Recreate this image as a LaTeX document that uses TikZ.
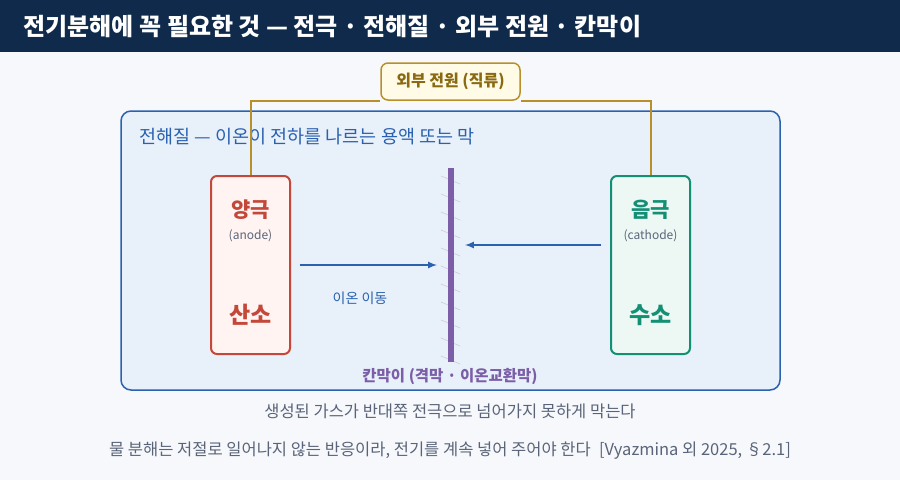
\documentclass[tikz,border=0pt]{standalone}
\usepackage{fontspec}
\setmainfont{Noto Sans CJK KR}
\usetikzlibrary{positioning}
\definecolor{navy}{HTML}{0F2A4A}
\definecolor{pagebg}{HTML}{F6F8FC}
\definecolor{elblue}{HTML}{2A62B0}
\definecolor{elfill}{HTML}{E8F0FA}
\definecolor{anred}{HTML}{C4483A}
\definecolor{anfill}{HTML}{FFF4F2}
\definecolor{catgreen}{HTML}{138F74}
\definecolor{catfill}{HTML}{EDF8F4}
\definecolor{mempurple}{HTML}{7B5EA7}
\definecolor{wiregold}{HTML}{B8902A}
\definecolor{goldtext}{HTML}{8A6A10}
\definecolor{goldfill}{HTML}{FFFBE6}
\definecolor{notegray}{HTML}{5A6478}
\begin{document}
\begin{tikzpicture}
  [ x=1pt, y=-1pt,
    electrode/.style={rectangle, rounded corners=6pt, line width=2pt, minimum width=79pt, minimum height=178pt},
    bigname/.style={font=\bfseries\fontsize{21}{24}\selectfont},
    engname/.style={font=\fontsize{12}{14}\selectfont, text=notegray},
    gasname/.style={font=\bfseries\fontsize{23}{26}\selectfont},
    wire/.style={line width=2pt, wiregold},
    flow/.style={-latex, line width=2pt, elblue},
    note/.style={font=\fontsize{16.5}{18}\selectfont, text=notegray}
  ]
  \fill[pagebg] (0,0) rectangle (900,480);
  \fill[navy] (0,0) rectangle (900,52);
  \node[anchor=west, text=white, font=\bfseries\fontsize{24}{26}\selectfont] (title) at (20,27)
    {전기분해에 꼭 필요한 것 — 전극 · 전해질 · 외부 전원 · 칸막이};

  % electrolyte
  \draw[elblue, line width=1.5pt, fill=elfill, rounded corners=10pt] (121,111) rectangle (780,390);
  \node[anchor=west, text=elblue, font=\fontsize{18.5}{20}\selectfont] (ellabel) at (136,137)
    {전해질 — 이온이 전하를 나르는 용액 또는 막};

  % electrodes
  \node[electrode, draw=anred, fill=anfill] (anode) at (250.5,265) {};
  \node[bigname, text=anred] (anname) at (250.5,210) {양극};
  \node[engname] (aneng) at (250.5,236) {(anode)};
  \node[gasname, text=anred] (o2) at (250.5,315) {산소};

  \node[electrode, draw=catgreen, fill=catfill] (cathode) at (650.5,265) {};
  \node[bigname, text=catgreen] (catname) at (650.5,210) {음극};
  \node[engname] (cateng) at (650.5,236) {(cathode)};
  \node[gasname, text=catgreen] (h2) at (650.5,315) {수소};

  % membrane
  \foreach \y in {176,194,...,356}
    \draw[mempurple!35, line width=0.6pt] (441,\y) -- (460,\y+8);
  \fill[mempurple] (448,168) rectangle (454,362);
  \node[text=mempurple, font=\bfseries\fontsize{15.5}{17}\selectfont] (memlabel) at (450,377)
    {칸막이 (격막 · 이온교환막)};

  % ion flow
  \coordinate (ain) at (300,265);
  \coordinate (aout) at (437,265);
  \coordinate (cin) at (601,245);
  \coordinate (cout) at (465,245);
  \draw[flow] (ain) -- (aout);
  \draw[flow] (cin) -- (cout);
  \node[text=elblue, font=\fontsize{14}{16}\selectfont] (flowlabel) at (360,298) {이온 이동};

  % power supply
  \node[draw=wiregold, fill=goldfill, line width=1.5pt, rounded corners=7pt, minimum width=139pt,
    minimum height=37pt, text=goldtext, font=\bfseries\fontsize{16}{18}\selectfont] (power) at (450.5,81.5)
    {외부 전원 (직류)};
  \draw[wire] (anode.north) |- (power.south west);
  \draw[wire] (cathode.north) |- (power.south east);

  % notes
  \node[note] (note1) at (450,411) {생성된 가스가 반대쪽 전극으로 넘어가지 못하게 막는다};
  \node[note] (note2) at (450,451) {물 분해는 저절로 일어나지 않는 반응이라, 전기를 계속 넣어 주어야 한다\enspace[Vyazmina 외 2025, §2.1]};
\end{tikzpicture}
\end{document}
